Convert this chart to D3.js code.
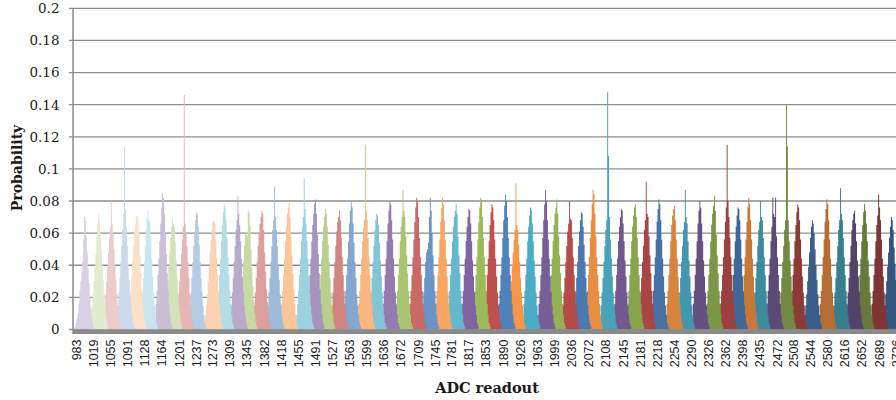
<!DOCTYPE html>
<html>
<head>
<meta charset="utf-8">
<script src="https://cdn.jsdelivr.net/npm/d3@7"></script>
<style>
  html, body { margin: 0; padding: 0; background: #fff; }
  svg { display: block; }
</style>
</head>
<body>
<svg id="chart" width="896" height="400"></svg>
<script>
// ADC readout histogram: one probability distribution per input level.

// First ADC code of each distribution (bins are 2 codes wide).
const peakStart = [
  979, 1009, 1036, 1064, 1089, 1114, 1145, 1166, 1191, 1217, 1252, 1276,
  1305, 1325, 1354, 1383, 1412, 1446, 1468, 1491, 1519, 1546, 1576, 1600,
  1628, 1656, 1685, 1712, 1740, 1767, 1796, 1821, 1845, 1874, 1896, 1927,
  1959, 1981, 2010, 2035, 2060, 2091, 2120, 2148, 2173, 2200, 2231, 2256,
  2287, 2316, 2345, 2368, 2391, 2416, 2444, 2471, 2495, 2526, 2557, 2586,
  2614, 2637, 2667, 2694
];

// Probability of each 2-code bin, in thousandths.
const peakValues = [
  [2,4,7,10,16,24,30,36,42,56,70,68,58,48,38,29,20,13,7,3,1],
  [2,5,9,15,22,30,38,47,58,66,72,68,60,50,40,31,22,15,9,4,2],
  [2,5,9,15,22,30,39,48,57,64,80,66,60,50,40,31,22,15,9,4,2],
  [2,5,9,15,23,32,42,52,62,72,114,75,64,52,41,31,22,15,9,4,2],
  [3,6,10,16,24,33,42,52,60,65,70,71,66,60,46,35,25,17,10,5,2],
  [2,5,9,15,23,32,42,52,62,70,74,68,67,56,44,33,23,15,9,4,2],
  [2,5,9,16,24,34,44,55,66,76,85,82,72,60,47,35,24,16,9,4,2],
  [2,5,9,15,22,30,39,48,57,64,69,66,64,54,43,33,23,15,9,4,2],
  [2,5,9,15,22,30,38,47,56,64,146,66,60,52,42,32,22,15,9,4,2],
  [2,5,9,15,23,32,42,52,61,68,73,72,64,53,42,32,23,15,9,4,2],
  [2,5,9,15,22,30,39,48,56,62,67,68,66,56,45,34,24,16,9,4,2],
  [2,5,9,16,24,34,44,55,65,73,78,76,68,57,45,34,24,16,9,4,2],
  [2,5,9,15,23,32,42,52,62,68,83,72,65,55,44,33,23,15,9,4,2],
  [2,5,9,15,23,32,42,52,60,61,58,74,72,64,50,38,27,18,10,5,2],
  [2,5,9,15,23,32,42,52,60,66,70,74,72,62,48,36,25,17,10,5,2],
  [2,5,9,15,23,32,42,52,62,68,89,70,62,52,41,31,22,15,9,4,2],
  [2,5,9,16,24,34,44,55,64,72,76,79,70,58,46,35,25,16,9,4,2],
  [2,5,9,16,24,34,44,55,64,70,94,75,66,55,44,33,23,15,9,4,2],
  [2,5,9,16,24,34,44,55,65,72,78,81,72,59,47,35,25,16,9,4,2],
  [2,5,9,16,24,34,44,55,64,70,75,72,64,53,42,32,23,15,9,4,2],
  [2,5,9,15,23,32,42,52,61,67,70,74,68,57,45,34,24,16,9,4,2],
  [2,5,9,16,24,34,44,55,66,74,80,76,66,54,42,32,22,15,9,4,2],
  [2,5,9,16,24,34,44,55,63,68,115,74,68,57,45,34,24,16,9,4,2],
  [2,5,9,15,23,32,42,52,62,68,72,71,65,54,43,33,23,15,9,4,2],
  [2,5,9,16,24,34,44,55,66,74,80,78,68,56,44,33,23,15,9,4,2],
  [2,5,9,16,24,34,44,55,64,70,87,74,70,58,46,35,24,16,9,4,2],
  [2,5,9,16,24,34,45,56,67,76,82,80,70,57,45,34,24,16,9,4,2],
  [2,5,9,15,23,32,42,48,50,54,70,82,74,60,46,34,24,16,9,4,2],
  [2,5,9,16,24,34,45,56,67,76,82,78,68,56,44,33,23,15,9,4,2],
  [2,5,9,16,24,34,44,55,64,70,74,78,72,58,46,35,24,16,9,4,2],
  [2,5,9,16,24,34,44,55,64,70,75,74,66,55,43,33,23,15,9,4,2],
  [2,5,9,16,24,34,45,56,67,76,82,80,70,57,45,34,24,16,9,4,2],
  [2,5,9,16,24,34,44,55,65,73,78,76,68,56,44,33,23,15,9,4,2],
  [2,5,9,16,24,34,45,57,68,77,84,80,70,57,45,34,24,16,9,4,2],
  [2,5,9,15,22,30,39,48,56,62,91,65,62,53,42,32,23,15,9,4,2],
  [2,5,9,16,24,34,44,55,64,71,76,74,66,55,43,33,23,15,9,4,2],
  [2,5,9,16,24,34,45,57,68,78,87,80,68,56,44,33,23,15,9,4,2],
  [2,5,9,16,24,34,44,55,65,72,76,81,72,58,46,35,24,16,9,4,2],
  [2,5,9,15,23,32,42,52,61,66,80,69,68,57,45,34,24,16,9,4,2],
  [2,5,9,15,23,32,42,52,61,68,73,72,64,53,42,32,23,15,9,4,2],
  [2,5,9,16,24,34,45,57,68,78,87,84,72,58,45,34,24,16,9,4,2],
  [2,5,9,15,23,32,42,52,62,68,148,108,70,56,44,33,23,15,9,4,2],
  [2,5,9,16,24,34,44,55,64,70,75,74,66,55,43,33,23,15,9,4,2],
  [2,5,9,16,24,34,44,55,64,71,76,78,70,57,45,34,24,16,9,4,2],
  [2,5,9,15,23,32,42,52,62,68,92,72,70,58,46,35,24,16,9,4,2],
  [2,5,9,16,24,34,45,56,67,75,81,78,68,56,44,33,23,15,9,4,2],
  [2,5,9,16,24,34,44,55,65,71,75,77,68,56,44,33,23,15,9,4,2],
  [2,5,9,15,23,32,42,52,62,67,87,70,66,55,43,33,23,15,9,4,2],
  [2,5,9,16,24,34,44,55,66,74,80,76,66,55,43,33,23,15,9,4,2],
  [2,5,9,16,24,34,44,55,65,72,77,83,74,59,46,35,24,16,9,4,2],
  [2,5,9,16,24,34,45,56,67,76,115,80,70,57,45,34,24,16,9,4,2],
  [2,5,9,16,24,34,44,55,64,71,76,75,68,56,44,33,23,15,9,4,2],
  [2,5,9,16,24,34,45,56,67,76,82,78,68,56,44,33,23,15,9,4,2],
  [2,5,9,15,23,32,42,52,62,67,80,70,68,57,45,34,24,16,9,4,2],
  [2,5,9,16,24,34,44,55,64,82,72,70,82,58,45,34,24,16,9,4,2],
  [2,5,9,15,23,32,42,52,62,68,140,114,68,55,43,33,23,15,9,4,2],
  [2,5,9,16,24,34,44,55,65,73,78,76,68,56,44,33,23,15,9,4,2],
  [2,5,9,15,22,30,39,48,57,64,68,66,60,50,40,31,22,15,9,4,2],
  [2,5,9,16,24,34,45,56,67,75,81,78,68,56,44,33,23,15,9,4,2],
  [2,5,9,15,23,32,42,52,62,68,88,72,68,57,45,34,24,16,9,4,2],
  [2,5,9,15,23,32,42,52,62,68,72,74,66,55,43,33,23,15,9,4,2],
  [2,5,9,16,24,34,44,55,65,73,78,74,66,55,43,33,23,15,9,4,2],
  [2,5,9,16,24,34,44,55,65,71,84,76,68,56,44,33,23,15,9,4,2],
  [2,5,9,15,22,30,39,48,57,64,70,68,62,51,41,31,22,15,9,4,2]
];

const xTickLabels = [
  983, 1019, 1055, 1091, 1128, 1164, 1201, 1237, 1273, 1309, 1345, 1382,
  1418, 1455, 1491, 1527, 1563, 1599, 1636, 1672, 1709, 1745, 1781, 1817,
  1853, 1890, 1926, 1963, 1999, 2036, 2072, 2108, 2145, 2181, 2218, 2254,
  2290, 2326, 2362, 2398, 2435, 2472, 2508, 2544, 2580, 2616, 2652, 2689, 2726
];
const yTickValues = [0, 0.02, 0.04, 0.06, 0.08, 0.1, 0.12, 0.14, 0.16, 0.18, 0.2];
const yTickLabels = ["0", "0.02", "0.04", "0.06", "0.08", "0.1", "0.12", "0.14", "0.16", "0.18", "0.2"];

// Series colours: six accent hues, tinted on the low side and shaded on the high side.
const seriesHues = ["#8064A2", "#9BBB59", "#C0504D", "#4F81BD", "#F79646", "#4BACC6"];
const groupTone = [0.7, 0.58, 0.45, 0.3, 0.15, 0, -0.06, -0.12, -0.2, -0.27, -0.34];
const binWidth = 2;

function peakColor(i) {
  const base = seriesHues[i % seriesHues.length];
  const t = groupTone[Math.min(groupTone.length - 1, Math.floor(i / seriesHues.length))];
  return t >= 0 ? d3.interpolateRgb(base, "#ffffff")(t)
                : d3.interpolateRgb(base, "#000000")(-t);
}

const svg = d3.select("#chart");
const plot = { left: 73, right: 901, top: 8.3, bottom: 329.5 };

const x = d3.scaleLinear().domain([975.5, 2735.5]).range([plot.left, plot.right]);
const y = d3.scaleLinear().domain([0, 0.2]).range([plot.bottom, plot.top]);

svg.append("defs").append("clipPath").attr("id", "plotClip")
  .append("rect")
  .attr("x", plot.left).attr("y", 0)
  .attr("width", plot.right - plot.left).attr("height", plot.bottom);

// Horizontal gridlines with short ticks left of the value axis
svg.append("g")
  .selectAll("line")
  .data(yTickValues)
  .join("line")
  .attr("x1", plot.left - 4)
  .attr("x2", plot.right)
  .attr("y1", d => y(d))
  .attr("y2", d => y(d))
  .attr("stroke", "#8e8e8e")
  .attr("stroke-width", 1.3);

// Distributions, drawn as adjacent columns (stepped outline per series)
const series = peakStart.map((start, i) => {
  const pts = peakValues[i].map((v, k) => ({ code: start + k * binWidth, p: v / 1000 }));
  pts.push({ code: start + peakValues[i].length * binWidth, p: 0 });
  return { i, pts };
});

const area = d3.area()
  .curve(d3.curveStepAfter)
  .x(d => x(d.code))
  .y0(y(0))
  .y1(d => y(d.p));

svg.append("g")
  .attr("clip-path", "url(#plotClip)")
  .selectAll("path")
  .data(series.slice().reverse())
  .join("path")
  .attr("d", d => area(d.pts))
  .attr("fill", d => peakColor(d.i));

// Category axis band (dense tick marks under the baseline)
svg.append("rect")
  .attr("x", plot.left)
  .attr("y", plot.bottom)
  .attr("width", plot.right - plot.left)
  .attr("height", 4.5)
  .attr("fill", "#8a8a8a");

// Value axis line
svg.append("line")
  .attr("x1", plot.left).attr("x2", plot.left)
  .attr("y1", plot.top).attr("y2", plot.bottom + 4.5)
  .attr("stroke", "#8a8a8a")
  .attr("stroke-width", 1.5);

// Value axis labels
svg.append("g")
  .selectAll("text")
  .data(yTickValues)
  .join("text")
  .attr("x", 59.5)
  .attr("y", d => y(d))
  .attr("dy", "0.36em")
  .attr("text-anchor", "end")
  .style("font-family", "'DejaVu Serif', 'Liberation Serif', serif")
  .style("font-size", "13.5px")
  .attr("fill", "#1a1a1a")
  .text((d, i) => yTickLabels[i]);

// Category labels, rotated
svg.append("g")
  .selectAll("text")
  .data(xTickLabels)
  .join("text")
  .attr("transform", d => `translate(${x(d)},339.5) rotate(-90)`)
  .attr("dy", "0.36em")
  .attr("text-anchor", "end")
  .style("font-family", "'Liberation Sans', Arial, sans-serif")
  .style("font-size", "12.5px")
  .attr("fill", "#1a1a1a")
  .text(d => d);

// Axis titles
svg.append("text")
  .attr("transform", "translate(21.5,168) rotate(-90)")
  .attr("text-anchor", "middle")
  .style("font-family", "'DejaVu Serif', 'Liberation Serif', serif")
  .style("font-size", "14px")
  .style("font-weight", "bold")
  .attr("fill", "#1a1a1a")
  .text("Probability");

svg.append("text")
  .attr("x", 487)
  .attr("y", 393)
  .attr("text-anchor", "middle")
  .style("font-family", "'DejaVu Serif', 'Liberation Serif', serif")
  .style("font-size", "14.5px")
  .style("font-weight", "bold")
  .attr("fill", "#1a1a1a")
  .text("ADC readout");
</script>
</body>
</html>
